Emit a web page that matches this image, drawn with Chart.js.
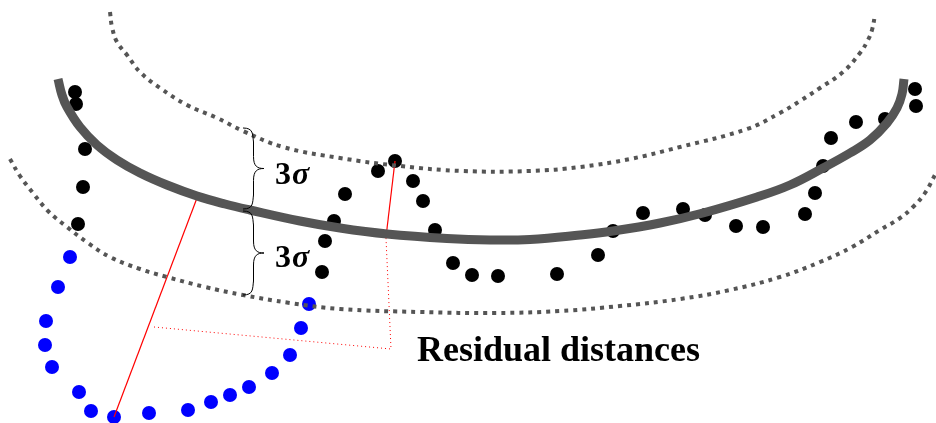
<!DOCTYPE html>
<html>
<head>
<meta charset="utf-8">
<script src="https://cdn.jsdelivr.net/npm/chart.js@4"></script>
<style>
  html, body { margin: 0; padding: 0; background: #fff; }
  #wrap { width: 936px; height: 423px; }
</style>
</head>
<body>
<div id="wrap"><canvas id="fitChart"></canvas></div>
<script>
// fitted curve (pixel-like units, y grows downward)
const fitX = [58, 62, 67, 80, 97, 117, 140, 167, 197, 225, 250, 300, 340, 387, 447, 490, 530, 580, 613, 660, 703, 757, 790, 823, 850, 870, 887, 897, 902, 904];
const fitY = [79, 95, 107, 127, 145, 160, 173, 185, 196, 204, 210, 221, 228, 234, 238.5, 240, 239.5, 235, 231, 223, 213, 197, 185, 168, 153, 140, 123, 108, 94, 79];

// +3 sigma band (upper dotted)
const upperX = [110, 112, 117, 127, 140, 160, 187, 217, 243, 283, 340, 400, 463, 530, 580, 630, 680, 747, 780, 800, 820, 843, 860, 868, 872, 875];
const upperY = [12, 27, 42, 55, 72, 88, 105, 118, 131, 147, 158, 166, 171, 171, 167, 159, 147, 129, 113, 101, 88, 72, 53, 40, 30, 15];

// -3 sigma band (lower dotted)
const lowerX = [10, 20, 33, 48, 67, 88, 110, 140, 167, 205, 243, 290, 340, 420, 497, 560, 620, 680, 730, 780, 820, 852, 880, 900, 913, 925, 936];
const lowerY = [159, 176, 193, 211, 227, 243, 257, 269, 277, 287, 295, 303, 309, 312, 313, 311, 306, 299, 290, 277, 262, 247, 230, 218, 207, 193, 173];

// inlier points
const inX = [75, 76, 85, 83, 78, 322, 325, 334, 345, 378, 395, 413, 423, 435, 453, 472, 498, 557, 598, 613, 643, 683, 705, 736, 763, 805, 815, 823, 831, 856, 885, 915, 916];
const inY = [92, 104, 149, 187, 224, 272, 241, 221, 194, 171, 161, 181, 201, 230, 263, 275, 276, 274, 255, 231, 213, 209, 215, 226, 227, 214, 193, 166, 138, 122, 119, 89, 106];

// outlier points
const outX = [70, 58, 46, 45, 52, 79, 91, 114, 149, 188, 211, 230, 249, 272, 290, 301, 309];
const outY = [257, 287, 321, 345, 367, 392, 411, 417, 413, 410, 402, 395, 387, 373, 355, 328, 304];

// residual segments
const resAX = [114, 197];
const resAY = [417, 198];
const resBX = [395, 386];
const resBY = [161, 237];
const leaderX = [154, 391, 386];
const leaderY = [327, 349, 238];

// sigma braces: [x, top, bottom, tipX]
const braceUpper = [243, 128, 209, 264];
const braceLower = [243, 211, 295, 264];
const sigmaLabelX = 275;
const sigmaLabelY = [176, 259];
const residLabel = [417, 352];

const pts = (xs, ys) => xs.map((x, i) => ({ x: x, y: ys[i] }));

const annotations = {
  id: "annotations",
  afterDatasetsDraw(chart) {
    const ctx = chart.ctx;
    const sx = chart.scales.x, sy = chart.scales.y;
    const px = (v) => sx.getPixelForValue(v);
    const py = (v) => sy.getPixelForValue(v);

    const brace = (b) => {
      const x0 = px(b[0]), y1 = py(b[1]), y2 = py(b[2]), xt = px(b[3]);
      const ym = (y1 + y2) / 2;
      const xm = (x0 + xt) / 2;
      ctx.beginPath();
      ctx.moveTo(x0, y1);
      ctx.bezierCurveTo(xm, y1, xm - 1, y1 + 6, xm, y1 + 14);
      ctx.lineTo(xm, ym - 12);
      ctx.bezierCurveTo(xm, ym - 2, xm + 4, ym, xt, ym);
      ctx.bezierCurveTo(xm + 4, ym, xm, ym + 2, xm, ym + 12);
      ctx.lineTo(xm, y2 - 14);
      ctx.bezierCurveTo(xm - 1, y2 - 6, xm, y2, x0, y2);
      ctx.stroke();
    };

    ctx.save();
    ctx.strokeStyle = "#000";
    ctx.lineWidth = 1;
    brace(braceUpper);
    brace(braceLower);

    ctx.fillStyle = "#000";
    ctx.textBaseline = "middle";
    sigmaLabelY.forEach((y) => {
      ctx.font = "bold 32px 'Liberation Serif'";
      ctx.fillText("3", px(sigmaLabelX), py(y));
      const w = ctx.measureText("3").width;
      ctx.font = "italic bold 32px 'Liberation Serif'";
      ctx.fillText("σ", px(sigmaLabelX) + w + 1, py(y));
    });

    ctx.font = "bold 36px 'Liberation Serif'";
    ctx.fillText("Residual distances", px(residLabel[0]), py(residLabel[1]));
    ctx.restore();
  },
};

const bandStyle = {
  type: "line",
  borderColor: "#555555",
  borderWidth: 4,
  borderDash: [4, 5],
  borderCapStyle: "butt",
  tension: 0.4,
  pointRadius: 0,
};

new Chart(document.getElementById("fitChart"), {
  type: "scatter",
  data: {
    datasets: [
      Object.assign({ data: pts(upperX, upperY) }, bandStyle),
      Object.assign({ data: pts(lowerX, lowerY) }, bandStyle),
      {
        type: "line",
        data: pts(fitX, fitY),
        borderColor: "#555555",
        borderWidth: 9,
        tension: 0.4,
        pointRadius: 0,
      },
      {
        type: "line",
        data: pts(leaderX, leaderY),
        borderColor: "#ff0000",
        borderWidth: 1,
        borderDash: [1, 3],
        tension: 0,
        pointRadius: 0,
      },
      {
        type: "line",
        data: pts(resAX, resAY),
        borderColor: "#ff0000",
        borderWidth: 1.2,
        tension: 0,
        pointRadius: 0,
      },
      {
        type: "line",
        data: pts(resBX, resBY),
        borderColor: "#ff0000",
        borderWidth: 1.2,
        tension: 0,
        pointRadius: 0,
      },
      {
        data: pts(inX, inY),
        backgroundColor: "#000000",
        borderWidth: 0,
        pointRadius: 7,
      },
      {
        data: pts(outX, outY),
        backgroundColor: "#0000ff",
        borderWidth: 0,
        pointRadius: 7,
      },
      {
        data: pts(outX, outY),
        backgroundColor: "#000000",
        borderWidth: 0,
        pointRadius: 1.5,
      },
    ],
  },
  options: {
    responsive: true,
    maintainAspectRatio: false,
    animation: false,
    layout: { padding: 0, autoPadding: false },
    clip: false,
    plugins: {
      legend: { display: false },
      tooltip: { enabled: false },
    },
    scales: {
      x: { type: "linear", display: false, min: 0, max: 936 },
      y: { type: "linear", display: false, min: 0, max: 423, reverse: true },
    },
  },
  plugins: [annotations],
});
</script>
</body>
</html>
